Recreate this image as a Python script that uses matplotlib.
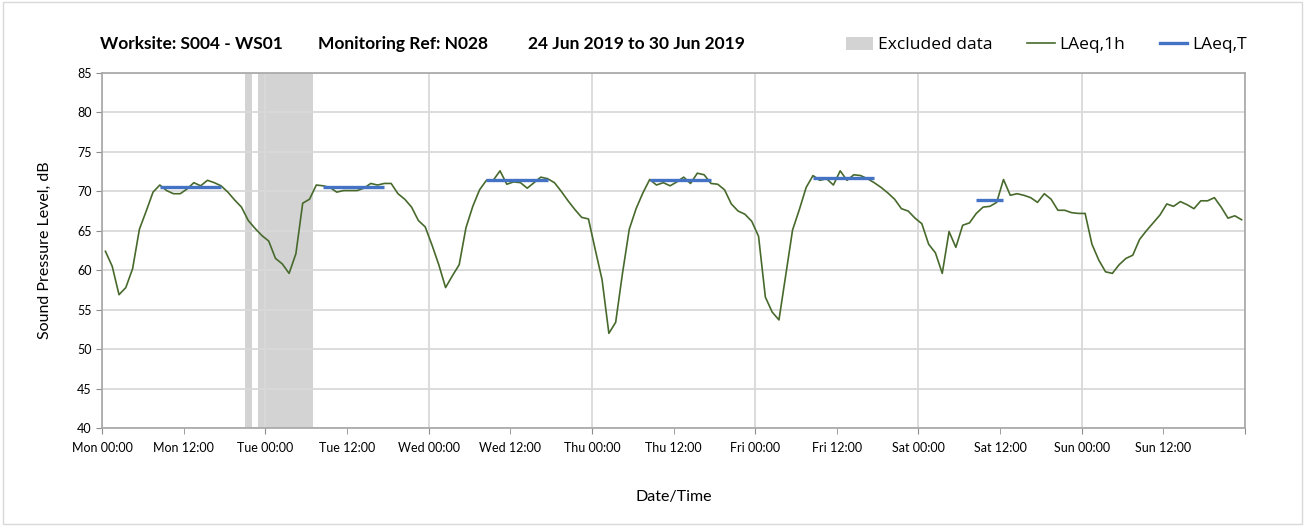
import numpy as np
import matplotlib.pyplot as plt
from matplotlib.patches import Patch, Rectangle
from matplotlib.lines import Line2D

# hourly LAeq,1h values, Mon 00:00 .. Sun 23:00
laeq_1h = [
    62.4, 60.5, 56.9, 57.8, 60.2, 65.2, 67.5, 69.9, 70.8, 70.1,
    69.7, 69.7, 70.3, 71.1, 70.7, 71.4, 71.1, 70.7, 69.9, 68.9,
    68.0, 66.3, 65.3, 64.4, 63.7, 61.5, 60.8, 59.6, 62.1, 68.5,
    69.0, 70.8, 70.7, 70.5, 69.9, 70.1, 70.1, 70.1, 70.4, 71.0,
    70.8, 71.0, 71.0, 69.7, 69.0, 68.0, 66.3, 65.5, 63.2, 60.7,
    57.8, 59.3, 60.7, 65.4, 68.1, 70.2, 71.4, 71.4, 72.6, 70.9,
    71.2, 71.1, 70.4, 71.1, 71.8, 71.6, 71.1, 70.0, 68.8, 67.7,
    66.7, 66.5, 62.6, 58.8, 52.0, 53.4, 59.6, 65.2, 67.8, 69.8,
    71.5, 70.8, 71.1, 70.7, 71.2, 71.8, 71.0, 72.3, 72.1, 71.0,
    70.9, 70.2, 68.4, 67.5, 67.1, 66.2, 64.3, 56.6, 54.7, 53.7,
    59.4, 65.1, 67.7, 70.5, 72.0, 71.4, 71.6, 70.8, 72.6, 71.4,
    72.1, 72.0, 71.6, 71.1, 70.5, 69.8, 69.0, 67.8, 67.5, 66.6,
    65.9, 63.3, 62.2, 59.6, 64.9, 62.9, 65.7, 66.0, 67.2, 68.0,
    68.1, 68.6, 71.5, 69.5, 69.7, 69.5, 69.2, 68.6, 69.7, 69.0,
    67.6, 67.6, 67.3, 67.2, 67.2, 63.3, 61.3, 59.8, 59.6, 60.7,
    61.5, 61.9, 63.9, 65.0, 66.0, 67.0, 68.4, 68.1, 68.7, 68.3,
    67.8, 68.8, 68.8, 69.2, 68.0, 66.6, 66.9, 66.4,
]

# LAeq,T over each working period (first and last hour index)
period_start = [8, 32, 56, 80, 104, 128]
period_end = [17, 41, 65, 89, 113, 132]
laeq_t = [70.5, 70.5, 71.4, 71.4, 71.7, 68.9]

# excluded periods, hours from Mon 00:00
excl_start = [21, 23]
excl_end = [22, 31]

days = ["Mon", "Tue", "Wed", "Thu", "Fri", "Sat", "Sun"]

green = "#476a2c"
blue = "#4472c4"
grey = "#d3d3d3"

plt.rcParams["font.family"] = ["Lato", "DejaVu Sans"]

fig = plt.figure(figsize=(13.06, 5.26), dpi=100)
ax = fig.add_axes([0.0781, 0.1863, 0.8752, 0.6749])

hours = np.arange(len(laeq_1h)) + 0.5

for s, e in zip(excl_start, excl_end):
    ax.axvspan(s, e, color=grey, lw=0, zorder=0.2)

ax.plot(hours, laeq_1h, color=green, lw=1.2, zorder=3)
for s, e, v in zip(period_start, period_end, laeq_t):
    ax.hlines(v, s + 0.5, e + 0.5, color=blue, lw=2.4, zorder=4)

ax.set_xlim(0, 168)
ax.set_ylim(40, 85)
ax.set_yticks(range(40, 86, 5))

ax.set_xticks(range(0, 169, 24))
ax.set_xticklabels([d + " 00:00" for d in days] + [""])
ax.set_xticks(range(12, 168, 24), minor=True)
ax.set_xticklabels([d + " 12:00" for d in days], minor=True)
ax.tick_params(axis="x", which="both", length=4, color="#8c8c8c",
               labelsize=9, pad=6)
ax.tick_params(axis="y", length=4, color="#8c8c8c", labelsize=9)

ax.set_axisbelow(True)
ax.grid(True, which="major", color="#d9d9d9", lw=1.3)
for sp in ax.spines.values():
    sp.set_color("#a6a6a6")
    sp.set_linewidth(1.2)

ax.set_ylabel("Sound Pressure Level, dB", fontsize=11.5, labelpad=18)
ax.set_xlabel("Date/Time", fontsize=11.5, labelpad=26)

ty = 1 - 44 / 526
fig.text(100 / 1306, ty, "Worksite: S004 - WS01",
         fontsize=12.5, fontweight="bold", va="center")
fig.text(318 / 1306, ty, "Monitoring Ref: N028",
         fontsize=12.5, fontweight="bold", va="center")
fig.text(528 / 1306, ty, "24 Jun 2019 to 30 Jun 2019",
         fontsize=12.5, fontweight="bold", va="center")

handles = [Patch(facecolor=grey, edgecolor="none"),
           Line2D([], [], color=green, lw=1.2),
           Line2D([], [], color=blue, lw=2.4)]
fig.legend(handles, ["Excluded data", "LAeq,1h", "LAeq,T"], ncol=3,
           loc="center right", bbox_to_anchor=(1262 / 1306, 1 - 45 / 526),
           frameon=False, handlelength=1.6, handleheight=0.75,
           handletextpad=0.25, columnspacing=2.0,
           prop={"family": ["Open Sans", "DejaVu Sans"], "size": 12.5})

fig.add_artist(Rectangle((0.002, 0.003), 0.995, 0.994, transform=fig.transFigure,
                         fill=False, edgecolor="#d9d9d9", lw=1))

fig.savefig("out.png", dpi=100)
